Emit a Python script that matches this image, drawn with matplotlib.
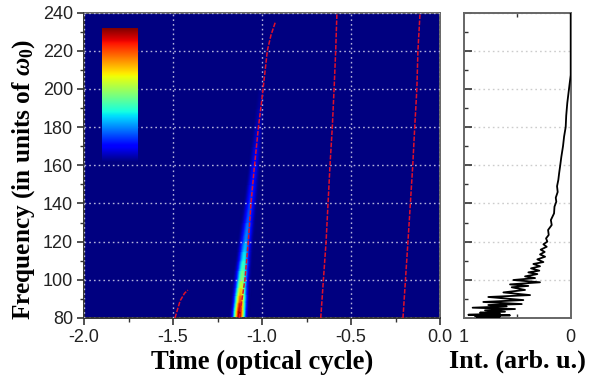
import numpy as np
import matplotlib
matplotlib.use("Agg")
import matplotlib.pyplot as plt
from matplotlib.ticker import MultipleLocator, FixedLocator

plt.rcParams['font.family'] = ['Liberation Sans', 'DejaVu Sans']
plt.rcParams['axes.unicode_minus'] = False
plt.rcParams['mathtext.fontset'] = 'custom'
plt.rcParams['mathtext.rm'] = 'Liberation Serif:bold'
plt.rcParams['mathtext.it'] = 'Liberation Serif:italic:bold'
plt.rcParams['mathtext.bf'] = 'Liberation Serif:bold'

# Attosecond ridge: centre time, half-extent and peak level per frequency
ridge_freq = [80, 84, 88, 92, 96, 100, 105, 110, 115, 120, 130, 140, 150, 160, 170, 180, 190, 200, 205]
ridge_time = [-1.128, -1.125, -1.122, -1.119, -1.116, -1.112, -1.107, -1.101, -1.096, -1.090,
              -1.077, -1.064, -1.052, -1.040, -1.030, -1.020, -1.010, -1.000, -0.995]
ridge_half = [0.056, 0.056, 0.055, 0.055, 0.054, 0.054, 0.053, 0.052, 0.051, 0.050,
              0.048, 0.046, 0.044, 0.042, 0.040, 0.038, 0.036, 0.034, 0.033]
ridge_peak = [1.00, 0.97, 0.88, 0.76, 0.64, 0.54, 0.46, 0.39, 0.33, 0.28,
              0.22, 0.18, 0.15, 0.12, 0.09, 0.06, 0.035, 0.015, 0.0]
profile_pos = [-1.0, -0.9, -0.8, -0.7, -0.6, -0.5, -0.4, -0.3, -0.2, -0.1, 0.0,
               0.1, 0.2, 0.3, 0.4, 0.5, 0.6, 0.7, 0.8, 0.9, 1.0]
profile_val = [0.0, 0.02, 0.06, 0.13, 0.24, 0.38, 0.54, 0.71, 0.85, 0.96, 1.0,
               0.96, 0.85, 0.71, 0.54, 0.38, 0.24, 0.13, 0.06, 0.02, 0.0]

# Electron trajectories (red dashed)
traj1_t = [-1.489, -1.46, -1.435, -1.416]
traj1_f = [80, 89, 93, 94.6]
traj2_t = [-1.128, -1.096, -1.077, -1.062, -1.045, -1.02, -1.0, -0.97, -0.95, -0.925]
traj2_f = [80, 100, 120, 140, 157, 180, 195, 220, 228, 235]
traj3_t = [-0.67, -0.64, -0.618, -0.605, -0.595, -0.586, -0.579]
traj3_f = [80, 120, 160, 180, 200, 220, 240]
traj4_t = [-0.208, -0.18, -0.153, -0.142, -0.13, -0.124, -0.112]
traj4_f = [80, 120, 160, 180, 200, 220, 240]

# Spectrum in the right panel
spec_f = [80.0, 80.3, 80.7, 81.0, 81.4, 81.7, 82.3, 82.8, 83.3, 84.0, 84.7, 85.4, 86.1, 86.8, 87.3,
          88.4, 89.4, 91.0, 92.0, 93.4, 94.7, 96.1, 96.8, 97.6, 98.7, 99.9, 100.9, 101.8, 103.0,
          103.9, 104.8, 106.0, 107.1, 108.3, 109.3, 110.7, 112.1, 113.3, 114.6, 115.8, 117.3,
          118.6, 120.0, 121.7, 123.5, 126.1, 128.7, 131.3, 134.8, 138.3, 140.9, 143.0, 146.0,
          149.0, 152.3, 156.0, 160.0, 164.3, 170.0, 175.0, 180.0, 186.0, 192.6, 200.4, 207.2, 240.0]
spec_i = [0.788, 0.881, 0.663, 0.897, 0.569, 0.959, 0.663, 0.85, 0.616, 0.803, 0.522, 0.919, 0.6,
          0.772, 0.459, 0.819, 0.444, 0.772, 0.381, 0.631, 0.428, 0.553, 0.397, 0.569, 0.2875,
          0.5375, 0.334, 0.428, 0.3125, 0.397, 0.294, 0.372, 0.2875, 0.35, 0.256, 0.3125, 0.24,
          0.2875, 0.244, 0.281, 0.225, 0.256, 0.219, 0.231, 0.206, 0.212, 0.178, 0.186, 0.156,
          0.152, 0.135, 0.14, 0.122, 0.128, 0.116, 0.108, 0.098, 0.088, 0.072, 0.062, 0.047,
          0.042, 0.032, 0.015, 0.0, 0.0]

x_ticks = [-2.0, -1.5, -1.0, -0.5, 0.0]
x_labels = ['-2.0', '-1.5', '-1.0', '-0.5', '0.0']
y_ticks = [80, 100, 120, 140, 160, 180, 200, 220, 240]

W, H = 592, 379
fig = plt.figure(figsize=(W / 100, H / 100), dpi=100)

def rect(l, t, r, b):
    return [l / W, 1 - b / H, (r - l) / W, (b - t) / H]

ax = fig.add_axes(rect(84, 12.5, 440, 318))
axr = fig.add_axes(rect(464, 12.5, 570.7, 318))
axc = fig.add_axes(rect(101.7, 28, 137.3, 162))

# Main map
ax.set_facecolor(plt.cm.jet(0.0))
X = np.array(ridge_time)[:, None] + np.outer(ridge_half, profile_pos)
Y = np.repeat(np.array(ridge_freq, float)[:, None], len(profile_pos), axis=1)
Z = np.outer(ridge_peak, profile_val)
ax.pcolormesh(X, Y, Z, cmap='jet', vmin=0, vmax=1, shading='gouraud', zorder=1)

for t, f in [(traj1_t, traj1_f), (traj2_t, traj2_f), (traj3_t, traj3_f), (traj4_t, traj4_f)]:
    ax.plot(t, f, color='#e0102a', lw=1.1, ls=(0, (3, 1.0)), zorder=3)

ax.set_xlim(-2, 0)
ax.set_ylim(80, 240)
ax.set_xticks(x_ticks)
ax.set_xticklabels(x_labels)
ax.set_yticks(y_ticks)
ax.xaxis.set_minor_locator(MultipleLocator(0.25))
ax.yaxis.set_minor_locator(MultipleLocator(10))
ax.grid(True, which='major', color='#b4b4dc', lw=1.0, ls=(0, (1.2, 2.2)), zorder=2)
ax.set_axisbelow(False)
ax.tick_params(which='major', length=5, width=1.2, color='#333333', labelsize=13, pad=3,
               labelcolor='#222222')
ax.tick_params(which='minor', length=3, width=1.0, color='#333333')
ax.set_xlabel('Time (optical cycle)', fontfamily='Liberation Serif', fontweight='bold',
              fontsize=19.2, labelpad=2.5)
ax.set_ylabel(r'Frequency (in units of $\omega_{0}$)', fontfamily='Liberation Serif',
              fontweight='bold', fontsize=18.2)
ax.yaxis.set_label_coords(-0.132, 0.455)
for s in ax.spines.values():
    s.set_color('#666666')
    s.set_linewidth(1.4)
ax.spines['left'].set_color('#333333')
ax.spines['bottom'].set_color('#333333')

# Colour scale patch
axc.imshow(np.linspace(1, 0, 256)[:, None], cmap='jet', aspect='auto', vmin=0, vmax=1,
           interpolation='bilinear')
axc.axis('off')

# Spectrum
axr.plot(spec_i, spec_f, color='black', lw=1.3, zorder=3)
axr.set_xlim(1, 0)
axr.set_ylim(80, 240)
axr.set_xticks([1, 0])
axr.set_xticklabels(['1', '0'])
axr.xaxis.set_minor_locator(FixedLocator([0.5]))
axr.set_yticks(y_ticks)
axr.set_yticklabels([])
axr.yaxis.set_minor_locator(MultipleLocator(10))
axr.grid(True, axis='y', which='major', color='#cccccc', lw=1.0, ls=(0, (1.2, 2.2)))
axr.tick_params(axis='y', which='major', direction='in', length=6, width=1.2, color='#333333')
axr.tick_params(axis='y', which='minor', direction='in', length=3, width=1.0, color='#333333')
axr.tick_params(axis='x', which='major', length=0, labelsize=13, pad=8, labelcolor='#222222')
axr.tick_params(axis='x', which='minor', direction='in', length=3, width=1.0, top=True,
                bottom=True, color='#333333')
axr.set_xlabel('Int. (arb. u.)', fontfamily='Liberation Serif', fontweight='bold',
               fontsize=18.8, labelpad=2.5)
for s in axr.spines.values():
    s.set_color('#666666')
    s.set_linewidth(1.4)

fig.savefig('out.png', dpi=100)
